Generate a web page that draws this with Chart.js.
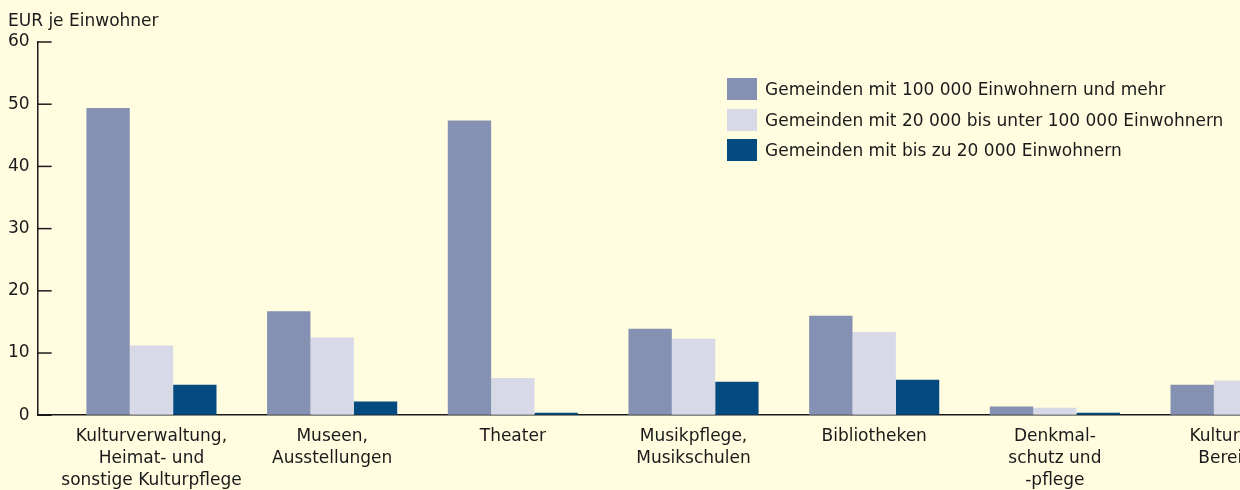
<!DOCTYPE html>
<html>
<head>
<meta charset="utf-8">
<script src="https://cdn.jsdelivr.net/npm/chart.js@4"></script>
<style>
  html, body { margin: 0; padding: 0; background: #fffce0; overflow: hidden; }
  .wrap { position: relative; width: 1340px; height: 502px; }
  .axis-title { position: absolute; left: 8px; top: 10px; font: 17px/20.4px "DejaVu Sans", sans-serif; color: #1a1a1a; white-space: nowrap; }
  .legend { position: absolute; left: 727px; top: 78px; font: 17px "DejaVu Sans", sans-serif; color: #1a1a1a; }
  .legend-row { display: flex; align-items: center; height: 22px; margin-bottom: 8.5px; white-space: nowrap; }
  .legend-box { width: 30px; height: 22px; margin-right: 8px; }
</style>
</head>
<body>
<div class="wrap">
  <canvas id="myChart" width="1340" height="502"></canvas>
  <div class="axis-title">EUR je Einwohner</div>
  <div class="legend"></div>
</div>
<script>
// data (EUR je Einwohner)
const categories = [
  ["Kulturverwaltung,", "Heimat- und", "sonstige Kulturpflege"],
  ["Museen,", "Ausstellungen"],
  ["Theater"],
  ["Musikpflege,", "Musikschulen"],
  ["Bibliotheken"],
  ["Denkmal-", "schutz und", "-pflege"],
  ["Kulturnahe", "Bereiche"],
];
const seriesNames = [
  "Gemeinden mit 100 000 Einwohnern und mehr",
  "Gemeinden mit 20 000 bis unter 100 000 Einwohnern",
  "Gemeinden mit bis zu 20 000 Einwohnern",
];
const bigTowns = [49.4, 16.7, 47.4, 13.9, 16.0, 1.4, 4.9];
const midTowns = [11.2, 12.5, 6.0, 12.3, 13.4, 1.2, 5.6];
const smallTowns = [4.9, 2.2, 0.4, 5.4, 5.7, 0.4, 1.8];
const yTicks = [0, 10, 20, 30, 40, 50, 60];

const colors = ["#8591b3", "#d7d9e7", "#034a80"];
const ink = "#1a1a1a";
const font = { family: "'DejaVu Sans', sans-serif", size: 17 };

function toPoints(values) {
  return values.map((v, i) => ({ x: i, y: v }));
}

// short tick marks pointing into the plot
const innerTicks = {
  id: "innerTicks",
  afterDatasetsDraw(chart) {
    const y = chart.scales.y;
    const ctx = chart.ctx;
    ctx.save();
    ctx.strokeStyle = ink;
    ctx.lineWidth = 1.5;
    y.ticks.forEach((t) => {
      const py = y.getPixelForValue(t.value);
      ctx.beginPath();
      ctx.moveTo(y.right, py);
      ctx.lineTo(y.right + 14, py);
      ctx.stroke();
    });
    ctx.restore();
  },
};

function createChart() {
  const ctx = document.getElementById("myChart");
  const series = [bigTowns, midTowns, smallTowns];

  const chart = new Chart(ctx, {
    type: "bar",
    data: {
      datasets: series.map((values, i) => ({
        label: seriesNames[i],
        data: toPoints(values),
        backgroundColor: colors[i],
        borderWidth: 0,
        categoryPercentage: 0.72,
        barPercentage: 1,
      })),
    },
    options: {
      responsive: false,
      animation: false,
      layout: { padding: { left: 0, right: 0, top: 42, bottom: 0 } },
      plugins: {
        legend: { display: false },
        tooltip: { enabled: false },
      },
      scales: {
        x: {
          type: "linear",
          offset: false,
          min: -0.63,
          max: 6.578,
          afterBuildTicks: (scale) => {
            scale.ticks = categories.map((c, i) => ({ value: i }));
          },
          grid: { display: false, drawTicks: false, offset: false },
          border: { color: ink, width: 1.5 },
          ticks: {
            autoSkip: false,
            maxRotation: 0,
            minRotation: 0,
            padding: 11,
            color: ink,
            font: { ...font, lineHeight: 1.27 },
            callback: (value) => categories[value],
          },
        },
        y: {
          min: 0,
          max: 60,
          afterBuildTicks: (scale) => {
            scale.ticks = yTicks.map((v) => ({ value: v }));
          },
          grid: { drawOnChartArea: false, drawTicks: false },
          border: { color: ink, width: 1.5 },
          ticks: { padding: 8, color: ink, font },
        },
      },
    },
    plugins: [innerTicks],
  });

  // legend as plain html, built from the datasets
  const legend = document.querySelector(".legend");
  chart.data.datasets.forEach((ds) => {
    const row = document.createElement("div");
    row.className = "legend-row";
    const box = document.createElement("span");
    box.className = "legend-box";
    box.style.background = ds.backgroundColor;
    const text = document.createElement("span");
    text.textContent = ds.label;
    row.append(box, text);
    legend.append(row);
  });
}

createChart();
</script>
</body>
</html>
